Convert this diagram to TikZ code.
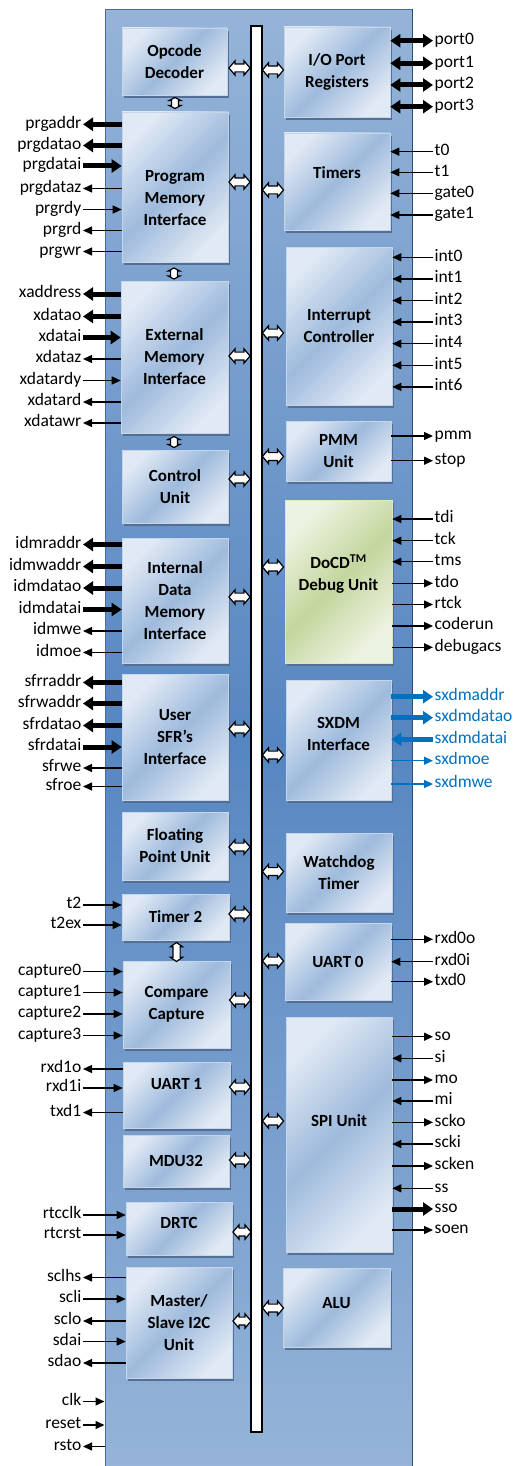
\documentclass[tikz,border=0pt]{standalone}
\usepackage{fontspec}
\setmainfont{Carlito}
\usetikzlibrary{arrows.meta,shapes.arrows}
\definecolor{coretop}{RGB}{150,180,216}
\definecolor{coremid}{RGB}{86,134,193}
\definecolor{coreedge}{RGB}{70,108,160}
\definecolor{blklight}{RGB}{224,233,244}
\definecolor{blkdark}{RGB}{158,186,220}
\definecolor{blkshadow}{RGB}{84,110,148}
\definecolor{dbglight}{RGB}{237,243,225}
\definecolor{dbgdark}{RGB}{195,214,158}
\definecolor{sxdmblue}{RGB}{0,112,192}

\begin{document}
\begin{tikzpicture}[x=1pt, y=-1pt]
            \tikzstyle{every node}+=[inner sep=0pt]
            \tikzstyle{blk}=[rectangle, draw=blklight!60!blkdark, line width=0.6pt, top color=blklight, bottom color=blklight, middle color=blkdark, shading angle=45, align=center, font=\bfseries\fontsize{17}{22}\selectfont, preaction={fill=blkshadow, transform canvas={xshift=1.5pt, yshift=-3pt}}]
            \tikzstyle{dbg}=[top color=dbglight, bottom color=dbglight, middle color=dbgdark, shading angle=45, draw=dbglight!60!dbgdark]
            \tikzstyle{lbl}=[font=\fontsize{17.5}{20}\selectfont, text height=11pt, text depth=3.5pt, inner xsep=1.5pt]
            \tikzstyle{wire}=[line width=1.3pt, -{Triangle[length=9pt, width=8pt]}]
            \tikzstyle{fatwire}=[line width=5pt, -{Triangle[length=10pt, width=13pt]}]
            \tikzstyle{fatboth}=[line width=5pt, {Triangle[length=10pt, width=13pt]}-{Triangle[length=10pt, width=13pt]}]
            \tikzstyle{busarr}=[double arrow, draw=black, line width=1.2pt, fill=white, inner xsep=0pt, inner ysep=3.3pt, minimum height=21pt, double arrow head extend=3.2pt, double arrow tip angle=100]
            \tikzstyle{stackarr}=[busarr, rotate=90, minimum height=11pt, inner ysep=2.8pt, double arrow head extend=2.4pt, double arrow tip angle=125]
            \useasboundingbox (0,0) rectangle (519,1466);
            \node [draw=coreedge, line width=1pt, top color=coretop, bottom color=coretop, middle color=coremid, minimum width=307pt, minimum height=1460pt] (core) at (258.5,740) {};
            \draw [coreedge!70!black, line width=1.5pt] (core.north east) -- (core.south east);
            \node [draw=black, line width=1.3pt, fill=white, minimum width=11pt, minimum height=1406pt] (bus) at (256.5,729) {};
            \node [blk, minimum width=105pt, minimum height=67pt] (opcdec) at (174.5,61.5) {Opcode\\Decoder};
            \node [blk, minimum width=106pt, minimum height=150pt] (prgmem) at (175,187) {\mbox{}\\[12pt]Program\\Memory\\Interface};
            \node [blk, minimum width=107pt, minimum height=152pt] (extmem) at (174.5,357) {External\\Memory\\Interface};
            \node [blk, minimum width=106pt, minimum height=73pt] (ctrl) at (175,486.5) {Control\\Unit};
            \node [blk, minimum width=106pt, minimum height=125pt] (intmem) at (175,600.5) {Internal\\Data\\Memory\\Interface};
            \node [blk, minimum width=106pt, minimum height=126pt] (usrsfr) at (175,737) {User\\SFR’s\\Interface};
            \node [blk, minimum width=106pt, minimum height=68pt] (fpu) at (175,846) {Floating\\Point Unit};
            \node [blk, minimum width=107pt, minimum height=46pt] (timer2) at (175.5,917) {Timer 2};
            \node [blk, minimum width=107pt, minimum height=87pt] (cmpcap) at (176.5,1004.5) {Compare\\Capture};
            \node [blk, minimum width=107pt, minimum height=66pt] (uart1) at (176.5,1095) {UART 1\\\mbox{}};
            \node [blk, minimum width=106pt, minimum height=52pt] (mdu) at (176,1161) {MDU32};
            \node [blk, minimum width=106pt, minimum height=53pt] (drtc) at (179,1228.5) {DRTC\\[-10pt]\mbox{}};
            \node [blk, minimum width=106pt, minimum height=111pt] (iic) at (179,1322.5) {Master/\\Slave I2C\\Unit};
            \node [blk, minimum width=106pt, minimum height=90pt] (ioport) at (337,72) {I/O Port\\Registers};
            \node [blk, minimum width=106pt, minimum height=97pt] (timers) at (337,181.5) {Timers\\[-4pt]\mbox{}};
            \node [blk, minimum width=106pt, minimum height=158pt] (intctl) at (339,326) {Interrupt\\Controller};
            \node [blk, minimum width=105pt, minimum height=60pt] (pmmu) at (338.5,451) {PMM\\Unit};
            \node [blk, dbg, minimum width=107pt, minimum height=163pt] (docd) at (338.5,581.5) {DoCD\textsuperscript{TM}\\Debug Unit\\[-4pt]\mbox{}};
            \node [blk, minimum width=105pt, minimum height=120pt] (sxdm) at (338.5,740) {SXDM\\Interface\\[-10pt]\mbox{}};
            \node [blk, minimum width=106pt, minimum height=79pt] (wdt) at (339,872.5) {Watchdog\\Timer};
            \node [blk, minimum width=106pt, minimum height=77pt] (uart0) at (338,961.5) {UART 0};
            \node [blk, minimum width=106pt, minimum height=235pt] (spi) at (339,1134.5) {SPI Unit\\[6pt]\mbox{}};
            \node [blk, minimum width=107pt, minimum height=79pt] (alu) at (336.5,1307.5) {ALU\\[-12pt]\mbox{}};
            \node [busarr] (opcbus) at (239.5,68) {};
            \node [busarr] (prgbus) at (239.5,182) {};
            \node [busarr] (extbus) at (239.5,356) {};
            \node [busarr] (ctrlbus) at (239.5,479) {};
            \node [busarr] (intmembus) at (239.5,597) {};
            \node [busarr] (sfrbus) at (239.5,729) {};
            \node [busarr] (fpubus) at (239.5,847) {};
            \node [busarr] (timer2bus) at (239.5,914) {};
            \node [busarr] (cmpbus) at (240,1000) {};
            \node [busarr] (uart1bus) at (240,1087) {};
            \node [busarr] (mdubus) at (240,1160) {};
            \node [busarr, minimum height=18pt] (drtcbus) at (242,1232) {};
            \node [busarr, minimum height=18pt] (iicbus) at (242,1321) {};
            \node [busarr] (iobus) at (273,70) {};
            \node [busarr] (timersbus) at (273,190) {};
            \node [busarr] (intctlbus) at (273,333) {};
            \node [busarr] (pmmbus) at (273,456.5) {};
            \node [busarr] (docdbus) at (273,567) {};
            \node [busarr] (sxdmbus) at (273,755) {};
            \node [busarr] (wdtbus) at (273,871.5) {};
            \node [busarr] (uart0bus) at (273,961) {};
            \node [busarr] (spibus) at (273,1121) {};
            \node [busarr] (alubus) at (273,1308) {};
            \node [stackarr] (opcprg) at (175,103) {};
            \node [stackarr] (prgext) at (174,273.5) {};
            \node [stackarr] (extctrl) at (174,442) {};
            \node [stackarr, minimum height=19pt, inner ysep=3pt, double arrow tip angle=110] (timcmp) at (176.5,952) {};
            \node [lbl, anchor=east] (prgaddr) at (83,124.3) {prgaddr}; \draw [fatwire] (prgmem.west |- prgaddr) -- (prgaddr);
            \node [lbl, anchor=east] (prgdatao) at (83,145.5) {prgdatao}; \draw [fatwire] (prgmem.west |- prgdatao) -- (prgdatao);
            \node [lbl, anchor=east] (prgdatai) at (83,166) {prgdatai}; \draw [fatwire] (prgdatai) -- (prgmem.west |- prgdatai);
            \node [lbl, anchor=east] (prgdataz) at (83,188.5) {prgdataz}; \draw [wire] (prgmem.west |- prgdataz) -- (prgdataz);
            \node [lbl, anchor=east] (prgrdy) at (83,209.5) {prgrdy}; \draw [wire] (prgrdy) -- (prgmem.west |- prgrdy);
            \node [lbl, anchor=east] (prgrd) at (83,230.5) {prgrd}; \draw [wire] (prgmem.west |- prgrd) -- (prgrd);
            \node [lbl, anchor=east] (prgwr) at (83,251.5) {prgwr}; \draw [wire] (prgmem.west |- prgwr) -- (prgwr);
            \node [lbl, anchor=east] (xaddress) at (83,294) {xaddress}; \draw [fatwire] (extmem.west |- xaddress) -- (xaddress);
            \node [lbl, anchor=east] (xdatao) at (83,316.5) {xdatao}; \draw [fatwire] (extmem.west |- xdatao) -- (xdatao);
            \node [lbl, anchor=east] (xdatai) at (83,337.5) {xdatai}; \draw [fatwire] (xdatai) -- (extmem.west |- xdatai);
            \node [lbl, anchor=east] (xdataz) at (83,359) {xdataz}; \draw [wire] (extmem.west |- xdataz) -- (xdataz);
            \node [lbl, anchor=east] (xdatardy) at (83,380.5) {xdatardy}; \draw [wire] (xdatardy) -- (extmem.west |- xdatardy);
            \node [lbl, anchor=east] (xdatard) at (83,402) {xdatard}; \draw [wire] (extmem.west |- xdatard) -- (xdatard);
            \node [lbl, anchor=east] (xdatawr) at (83,423) {xdatawr}; \draw [wire] (extmem.west |- xdatawr) -- (xdatawr);
            \node [lbl, anchor=east] (idmraddr) at (83,544.5) {idmraddr}; \draw [fatwire] (intmem.west |- idmraddr) -- (idmraddr);
            \node [lbl, anchor=east] (idmwaddr) at (83,566.5) {idmwaddr}; \draw [fatwire] (intmem.west |- idmwaddr) -- (idmwaddr);
            \node [lbl, anchor=east] (idmdatao) at (83,588) {idmdatao}; \draw [fatwire] (intmem.west |- idmdatao) -- (idmdatao);
            \node [lbl, anchor=east] (idmdatai) at (83,609.5) {idmdatai}; \draw [fatwire] (idmdatai) -- (intmem.west |- idmdatai);
            \node [lbl, anchor=east] (idmwe) at (83,631) {idmwe}; \draw [wire] (intmem.west |- idmwe) -- (idmwe);
            \node [lbl, anchor=east] (idmoe) at (83,652.5) {idmoe}; \draw [wire] (intmem.west |- idmoe) -- (idmoe);
            \node [lbl, anchor=east] (sfrraddr) at (83,682.5) {sfrraddr}; \draw [fatwire] (usrsfr.west |- sfrraddr) -- (sfrraddr);
            \node [lbl, anchor=east] (sfrwaddr) at (83,703.5) {sfrwaddr}; \draw [fatwire] (usrsfr.west |- sfrwaddr) -- (sfrwaddr);
            \node [lbl, anchor=east] (sfrdatao) at (83,725.5) {sfrdatao}; \draw [fatwire] (usrsfr.west |- sfrdatao) -- (sfrdatao);
            \node [lbl, anchor=east] (sfrdatai) at (83,747) {sfrdatai}; \draw [fatwire] (sfrdatai) -- (usrsfr.west |- sfrdatai);
            \node [lbl, anchor=east] (sfrwe) at (83,768) {sfrwe}; \draw [wire] (usrsfr.west |- sfrwe) -- (sfrwe);
            \node [lbl, anchor=east] (sfroe) at (83,786.5) {sfroe}; \draw [wire] (usrsfr.west |- sfroe) -- (sfroe);
            \node [lbl, anchor=east] (t2) at (83,905) {t2}; \draw [wire] (t2) -- (timer2.west |- t2);
            \node [lbl, anchor=east] (t2ex) at (83,925) {t2ex}; \draw [wire] (t2ex) -- (timer2.west |- t2ex);
            \node [lbl, anchor=east] (capture0) at (83,971.5) {capture0}; \draw [wire] (capture0) -- (cmpcap.west |- capture0);
            \node [lbl, anchor=east] (capture1) at (83,992.5) {capture1}; \draw [wire] (capture1) -- (cmpcap.west |- capture1);
            \node [lbl, anchor=east] (capture2) at (83,1014) {capture2}; \draw [wire] (capture2) -- (cmpcap.west |- capture2);
            \node [lbl, anchor=east] (capture3) at (83,1035.5) {capture3}; \draw [wire] (capture3) -- (cmpcap.west |- capture3);
            \node [lbl, anchor=east] (rxd1o) at (83,1069) {rxd1o}; \draw [wire] (uart1.west |- rxd1o) -- (rxd1o);
            \node [lbl, anchor=east] (rxd1i) at (83,1088) {rxd1i}; \draw [wire] (rxd1i) -- (uart1.west |- rxd1i);
            \node [lbl, anchor=east] (txd1) at (83,1112.5) {txd1}; \draw [wire] (uart1.west |- txd1) -- (txd1);
            \node [lbl, anchor=east] (rtcclk) at (83,1215) {rtcclk}; \draw [wire] (rtcclk) -- (drtc.west |- rtcclk);
            \node [lbl, anchor=east] (rtcrst) at (83,1235) {rtcrst}; \draw [wire] (rtcrst) -- (drtc.west |- rtcrst);
            \node [lbl, anchor=east] (sclhs) at (83,1277.5) {sclhs}; \draw [wire] (iic.west |- sclhs) -- (sclhs);
            \node [lbl, anchor=east] (scli) at (83,1299) {scli}; \draw [wire] (scli) -- (iic.west |- scli);
            \node [lbl, anchor=east] (sclo) at (83,1321) {sclo}; \draw [wire] (iic.west |- sclo) -- (sclo);
            \node [lbl, anchor=east] (sdai) at (83,1341.5) {sdai}; \draw [wire] (sdai) -- (iic.west |- sdai);
            \node [lbl, anchor=east] (sdao) at (83,1363) {sdao}; \draw [wire] (iic.west |- sdao) -- (sdao);
            \node [lbl, anchor=east] (clk) at (83,1401.5) {clk}; \draw [wire] (clk) -- (core.west |- clk);
            \node [lbl, anchor=east] (reset) at (83,1425) {reset}; \draw [wire] (reset) -- (core.west |- reset);
            \node [lbl, anchor=east] (rsto) at (83,1446.5) {rsto}; \draw [wire] (core.west |- rsto) -- (rsto);
            \node [lbl, anchor=west] (port0) at (433,40.7) {port0}; \draw [fatboth] (ioport.east |- port0) -- (port0);
            \node [lbl, anchor=west] (port1) at (433,63.3) {port1}; \draw [fatboth] (ioport.east |- port1) -- (port1);
            \node [lbl, anchor=west] (port2) at (433,85) {port2}; \draw [fatboth] (ioport.east |- port2) -- (port2);
            \node [lbl, anchor=west] (port3) at (433,106.7) {port3}; \draw [fatboth] (ioport.east |- port3) -- (port3);
            \node [lbl, anchor=west] (t0) at (433,151.7) {t0}; \draw [wire] (t0) -- (timers.east |- t0);
            \node [lbl, anchor=west] (t1) at (433,172.3) {t1}; \draw [wire] (t1) -- (timers.east |- t1);
            \node [lbl, anchor=west] (gate0) at (433,193.3) {gate0}; \draw [wire] (gate0) -- (timers.east |- gate0);
            \node [lbl, anchor=west] (gate1) at (433,215) {gate1}; \draw [wire] (gate1) -- (timers.east |- gate1);
            \node [lbl, anchor=west] (int0) at (433,257.3) {int0}; \draw [wire] (int0) -- (intctl.east |- int0);
            \node [lbl, anchor=west] (int1) at (433,278.9) {int1}; \draw [wire] (int1) -- (intctl.east |- int1);
            \node [lbl, anchor=west] (int2) at (433,300.5) {int2}; \draw [wire] (int2) -- (intctl.east |- int2);
            \node [lbl, anchor=west] (int3) at (433,322.1) {int3}; \draw [wire] (int3) -- (intctl.east |- int3);
            \node [lbl, anchor=west] (int4) at (433,343.7) {int4}; \draw [wire] (int4) -- (intctl.east |- int4);
            \node [lbl, anchor=west] (int5) at (433,365.3) {int5}; \draw [wire] (int5) -- (intctl.east |- int5);
            \node [lbl, anchor=west] (int6) at (433,386.9) {int6}; \draw [wire] (int6) -- (intctl.east |- int6);
            \node [lbl, anchor=west] (pmm) at (433,436) {pmm}; \draw [wire] (pmmu.east |- pmm) -- (pmm);
            \node [lbl, anchor=west] (stop) at (433,460.7) {stop}; \draw [wire] (pmmu.east |- stop) -- (stop);
            \node [lbl, anchor=west] (tdi) at (433,519) {tdi}; \draw [wire] (tdi) -- (docd.east |- tdi);
            \node [lbl, anchor=west] (tck) at (433,540.7) {tck}; \draw [wire] (tck) -- (docd.east |- tck);
            \node [lbl, anchor=west] (tms) at (433,561.7) {tms}; \draw [wire] (tms) -- (docd.east |- tms);
            \node [lbl, anchor=west] (tdo) at (433,583.3) {tdo}; \draw [wire] (docd.east |- tdo) -- (tdo);
            \node [lbl, anchor=west] (rtck) at (433,604.5) {rtck}; \draw [wire] (docd.east |- rtck) -- (rtck);
            \node [lbl, anchor=west] (coderun) at (433,626) {coderun}; \draw [wire] (docd.east |- coderun) -- (coderun);
            \node [lbl, anchor=west] (debugacs) at (433,647.3) {debugacs}; \draw [wire] (docd.east |- debugacs) -- (debugacs);
            \node [lbl, anchor=west, text=sxdmblue] (sxdmaddr) at (433,696.7) {sxdmaddr}; \draw [fatwire, sxdmblue] (sxdm.east |- sxdmaddr) -- (sxdmaddr);
            \node [lbl, anchor=west, text=sxdmblue] (sxdmdatao) at (433,717.7) {sxdmdatao}; \draw [fatwire, sxdmblue] (sxdm.east |- sxdmdatao) -- (sxdmdatao);
            \node [lbl, anchor=west, text=sxdmblue] (sxdmdatai) at (433,739.3) {sxdmdatai}; \draw [fatwire, sxdmblue] (sxdmdatai) -- (sxdm.east |- sxdmdatai);
            \node [lbl, anchor=west, text=sxdmblue] (sxdmoe) at (433,760.7) {sxdmoe}; \draw [wire, sxdmblue] (sxdm.east |- sxdmoe) -- (sxdmoe);
            \node [lbl, anchor=west, text=sxdmblue] (sxdmwe) at (433,784) {sxdmwe}; \draw [wire, sxdmblue] (sxdm.east |- sxdmwe) -- (sxdmwe);
            \node [lbl, anchor=west] (rxd0o) at (433,939.3) {rxd0o}; \draw [wire] (uart0.east |- rxd0o) -- (rxd0o);
            \node [lbl, anchor=west] (rxd0i) at (433,961.7) {rxd0i}; \draw [wire] (rxd0i) -- (uart0.east |- rxd0i);
            \node [lbl, anchor=west] (txd0) at (433,981.7) {txd0}; \draw [wire] (uart0.east |- txd0) -- (txd0);
            \node [lbl, anchor=west] (so) at (433,1036.7) {so}; \draw [wire] (spi.east |- so) -- (so);
            \node [lbl, anchor=west] (si) at (433,1058.3) {si}; \draw [wire] (si) -- (spi.east |- si);
            \node [lbl, anchor=west] (mo) at (433,1080) {mo}; \draw [wire] (spi.east |- mo) -- (mo);
            \node [lbl, anchor=west] (mi) at (433,1101) {mi}; \draw [wire] (mi) -- (spi.east |- mi);
            \node [lbl, anchor=west] (scko) at (433,1122.3) {scko}; \draw [wire] (spi.east |- scko) -- (scko);
            \node [lbl, anchor=west] (scki) at (433,1144) {scki}; \draw [wire] (scki) -- (spi.east |- scki);
            \node [lbl, anchor=west] (scken) at (433,1166) {scken}; \draw [wire] (spi.east |- scken) -- (scken);
            \node [lbl, anchor=west] (ss) at (433,1188.3) {ss}; \draw [wire] (ss) -- (spi.east |- ss);
            \node [lbl, anchor=west] (sso) at (433,1209) {sso}; \draw [fatwire] (spi.east |- sso) -- (sso);
            \node [lbl, anchor=west] (soen) at (433,1230) {soen}; \draw [wire] (spi.east |- soen) -- (soen);
        \end{tikzpicture}
\end{document}
